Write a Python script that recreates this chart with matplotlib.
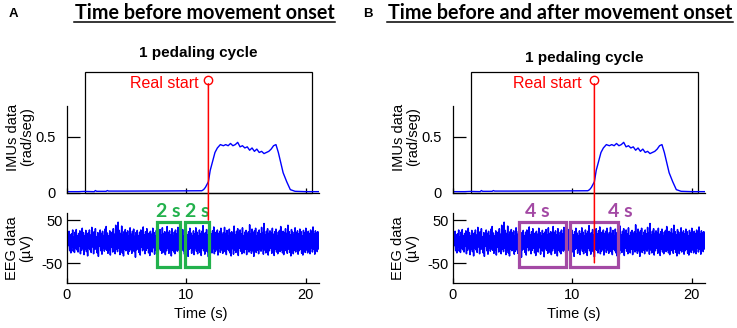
import numpy as np
import matplotlib
matplotlib.use('Agg')
import matplotlib.pyplot as plt
from matplotlib.patches import Rectangle, ConnectionPatch
from matplotlib.lines import Line2D

plt.rcParams['font.family'] = ['Liberation Sans', 'DejaVu Sans']
plt.rcParams['axes.unicode_minus'] = False

# IMU angular velocity (rad/seg)
imu_t = [0, 1.0, 1.5, 2.3, 2.4, 2.5, 3.3, 3.4, 3.5, 5.0, 8.0, 11.3, 11.45, 11.6, 11.85,
         12.0, 12.2, 12.4, 12.6, 12.85, 13.1, 13.3, 13.5, 13.7, 13.9, 14.1, 14.3, 14.5,
         14.7, 14.9, 15.1, 15.3, 15.5, 15.7, 15.9, 16.1, 16.3, 16.5, 16.7, 16.9, 17.1,
         17.3, 17.5, 17.7, 17.9, 18.1, 18.4, 18.7, 19.1, 20.0, 21.1]
imu_v = [0.012, 0.012, 0.014, 0.012, 0.022, 0.015, 0.015, 0.022, 0.017, 0.017, 0.018,
         0.02, 0.03, 0.05, 0.10, 0.20, 0.28, 0.36, 0.40, 0.43, 0.42, 0.43, 0.42, 0.44,
         0.42, 0.43, 0.45, 0.41, 0.42, 0.40, 0.41, 0.38, 0.40, 0.37, 0.39, 0.36, 0.37,
         0.35, 0.36, 0.37, 0.39, 0.42, 0.43, 0.36, 0.27, 0.18, 0.10, 0.03, 0.015, 0.012,
         0.012]

# EEG samples (uV), 20 samples per second
eeg_fs = 20
eeg_uv = [
    12, -18, 20, -9, 24, -21, 15, -26, 18, -12, 27, -22, 10, -25, 22, -16, 28, -19, 13, -24,
    19, -11, 25, -28, 16, -20, 31, -14, 21, -30, 14, -17, 26, -23, 9, -33, 20, -15, 27, -19,
    15, -25, 33, -12, 18, -28, 23, -18, 30, -16, 11, -26, 21, -34, 17, -10, 27, -21, 19, -29,
    24, -15, 14, -22, 29, -17, 35, -20, 20, -27, 13, -19, 25, -31, 18, -13, 22, -24, 30, -11,
    17, -28, 38, -17, 22, -23, 45, -15, 26, -30, 19, -20, 36, -26, 15, -33, 23, -17, 28, -21,
    20, -16, 25, -29, 13, -22, 32, -18, 17, -27, 24, -14, 29, -23, 12, -36, 21, -19, 26, -16,
    14, -25, 22, -31, 27, -13, 19, -21, 34, -17, 16, -28, 23, -20, 30, -15, 11, -26, 20, -32,
    24, -18, 17, -24, 31, -14, 21, -29, 13, -19, 26, -22, 18, -35, 22, -16, 28, -20, 15, -27,
    32, -17, 19, -25, 23, -30, 14, -21, 35, -15, 20, -27, 25, -18, 16, -33, 30, -20, 13, -24,
    22, -28, 27, -16, 18, -22, 33, -19, 15, -26, 24, -31, 19, -14, 28, -21, 12, -29, 21, -17,
    26, -24, 16, -34, 23, -18, 31, -15, 20, -27, 14, -20, 25, -30, 18, -16, 32, -22, 22, -28,
    13, -19, 27, -25, 19, -32, 24, -15, 37, -21, 17, -29, 21, -17, 28, -23, 15, -35, 23, -18,
    30, -20, 18, -26, 25, -16, 34, -28, 14, -22, 22, -18, 27, -31, 19, -15, 24, -25, 31, -19,
    16, -27, 21, -14, 33, -23, 19, -30, 26, -17, 13, -21, 29, -26, 20, -33, 23, -16, 18, -29,
    36, -19, 15, -25, 24, -18, 30, -32, 21, -15, 27, -22, 18, -28, 32, -20, 14, -26, 22, -17,
    26, -30, 19, -16, 23, -24, 39, -19, 17, -27, 29, -21, 20, -34, 25, -15, 31, -25, 13, -20,
    22, -28, 27, -18, 18, -22, 33, -16, 21, -29, 42, -19, 15, -26, 24, -17, 30, -31, 19, -21,
    25, -15, 20, -27, 31, -20, 17, -32, 23, -18, 29, -24, 14, -28, 22, -16, 26, -23, 35, -19,
    18, -26, 24, -30, 21, -15, 30, -21, 19, -27, 38, -17, 23, -25, 16, -33, 28, -19, 22, -28,
    15, -20, 32, -24, 20, -16, 25, -29, 18, -21, 29, -18, 23, -27, 13, -31, 26, -17, 21, -25,
    31, -19, 17, -26, 24, -21, 19, -28, 27, -15, 22, -24, 34, -18, 18, -29, 25, -20, 20, -23,
    23, -17, 20,
]

onset = 11.85
cycle = (1.5, 20.5)

panel_titles = ['Time before movement onset', 'Time before and after movement onset']
panel_letters = ['A', 'B']
# analysis windows (start, end) in s, and their labels
windows_a = [(7.53, 9.5), (9.9, 11.88)]
windows_b = [(5.53, 9.44), (9.83, 13.8)]
window_labels_a = ['2 s', '2 s']
window_labels_b = ['4 s', '4 s']

W, H = 737, 328
eeg_t = np.arange(len(eeg_uv)) / eeg_fs

fig = plt.figure(figsize=(W / 100, H / 100), dpi=100)


def style_axis(ax):
    for s in ['top', 'right']:
        ax.spines[s].set_visible(False)
    for s in ['left', 'bottom']:
        ax.spines[s].set_linewidth(0.9)
    ax.tick_params(axis='y', direction='in', length=9, width=0.9, labelsize=10.5)
    ax.tick_params(axis='x', direction='in', length=3.5, width=0.9, pad=4, labelsize=10.5)
    ax.set_xlim(0, 21.1)
    ax.set_xticks([0, 10, 20])


def draw_panel(left, windows, wcolor, xlab_pos, cyc_label_y, real_x):
    ax_imu = fig.add_axes([left / W, 135 / H, 252.3 / W, 128 / H])
    ax_eeg = fig.add_axes([left / W, 45.3 / H, 252.3 / W, 70 / H])
    for ax in (ax_imu, ax_eeg):
        style_axis(ax)

    ax_imu.plot(imu_t, imu_v, color='#0000ff', lw=1.0)
    ax_imu.set_ylim(0, 1.137)
    ax_imu.spines['left'].set_bounds(0, 0.77)
    ax_imu.set_yticks([0, 0.5])
    ax_imu.set_yticklabels(['0', '0.5'])
    ax_imu.tick_params(axis='y', pad=8)
    ax_imu.set_xticklabels([])
    ax_imu.add_patch(Rectangle((cycle[0], 0), cycle[1] - cycle[0], 1.075, fill=False,
                               edgecolor='black', lw=0.9, clip_on=False))
    ax_imu.text(sum(cycle) / 2, cyc_label_y, '1 pedaling cycle', ha='center', va='center',
                fontsize=11, fontweight='bold')
    ax_imu.plot(onset, 1.004, 'o', mfc='none', mec='#ff0000', ms=6, mew=1.0, clip_on=False)
    ax_imu.text(real_x, 0.975, 'Real start', color='#ff0000', ha='right', va='center',
                fontsize=11.5)

    ax_eeg.plot(eeg_t, eeg_uv, color='#0000ff', lw=1.1)
    ax_eeg.set_ylim(-95, 67)
    ax_eeg.set_yticks([-50, 50])
    ax_eeg.tick_params(axis='y', pad=3)
    ax_eeg.set_xlabel('Time (s)', fontsize=10.5)
    ax_eeg.xaxis.set_label_coords(xlab_pos, -0.35)

    # window boxes sit on top of the EEG trace
    for t0, t1 in windows:
        ax_eeg.add_patch(Rectangle((t0, -59), t1 - t0, 104, fill=False, edgecolor=wcolor,
                                   lw=2.3, clip_on=False, zorder=3))
    return ax_imu, ax_eeg


imu_a, eeg_a = draw_panel(66.7, windows_a, '#22b14c', 0.53, 1.24, 11.03)
imu_b, eeg_b = draw_panel(452.7, windows_b, '#a349a4', 0.48, 1.20, 10.75)

# window labels
for (t0, t1), lab in zip(windows_a, window_labels_a):
    eeg_a.text((t0 + t1) / 2, 69, lab, color='#22b14c', ha='center', va='center',
               fontsize=14, fontweight='bold', family='Lato')
for x, lab in zip([7.1, 14.0], window_labels_b):
    eeg_b.text(x, 69, lab, color='#a349a4', ha='center', va='center',
               fontsize=14, fontweight='bold', family='Lato')

# red onset line through both plots
for ax_imu, ax_eeg, stop in [(imu_a, eeg_a, 50), (imu_b, eeg_b, -49)]:
    con = ConnectionPatch(xyA=(onset, 0.97), coordsA=ax_imu.transData,
                          xyB=(onset, stop), coordsB=ax_eeg.transData,
                          color='#ff0000', lw=1.1)
    fig.add_artist(con)

# y labels
for spine_x in [66.7, 452.7]:
    fig.text((spine_x - 46.7) / W, 1 - 137 / H, 'IMUs data\n(rad/seg)', rotation=90,
             ha='center', va='center', fontsize=10.5, linespacing=1.0)
    fig.text((spine_x - 47.5) / W, 1 - 248 / H, 'EEG data\n(\u00b5V)', rotation=90,
             ha='center', va='center', fontsize=10.5, linespacing=1.0)

# panel titles, underlined; size fitted to the reference width
title_texts = []
for cx, (x0, x1), title in [(204.5, (74, 335), panel_titles[0]),
                            (560, (386.7, 733), panel_titles[1])]:
    t = fig.text(cx / W, 1 - 13 / H, title, ha='center', va='center', fontsize=15,
                 fontweight='bold', family='Lato')
    title_texts.append((t, x1 - x0))
    fig.add_artist(Line2D([x0 / W, x1 / W], [1 - 21.7 / H] * 2, color='black', lw=1.1))

fig.canvas.draw()
renderer = fig.canvas.get_renderer()
for t, target in title_texts:
    w = t.get_window_extent(renderer).width
    t.set_fontsize(t.get_fontsize() * target / w)

for x, letter in [(13.5, 'A'), (368, 'B')]:
    fig.text(x / W, 1 - 14 / H, letter, ha='center', va='center', fontsize=9.5,
             fontweight='bold')

fig.savefig('out.png', dpi=100)
